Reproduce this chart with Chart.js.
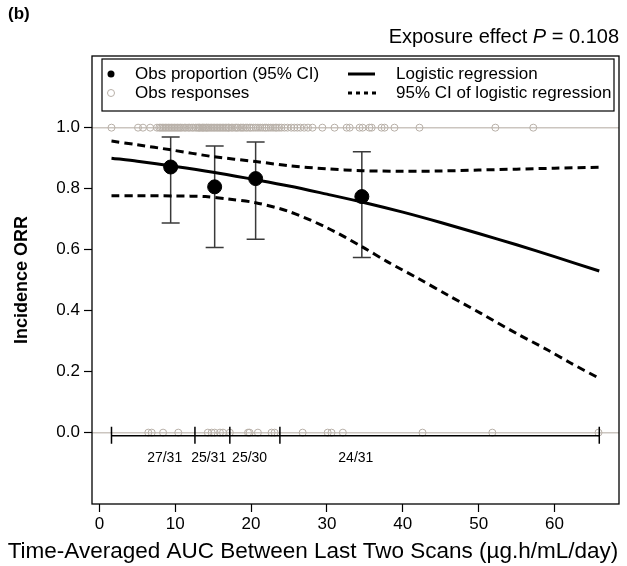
<!DOCTYPE html>
<html><head><meta charset="utf-8">
<script src="https://cdn.jsdelivr.net/npm/chart.js@4.4.0/dist/chart.umd.min.js"></script>
<style>html,body{margin:0;padding:0;background:#fff}</style>
</head><body>
<canvas id="c" width="627" height="566"></canvas>
<script>
// ---------- data ----------
const xTicks = [0, 10, 20, 30, 40, 50, 60];
const yTicks = [0, 0.2, 0.4, 0.6, 0.8, 1.0];
const refLines = [0, 1];

// observed responders (ORR = 1)
const respX = [1.6, 5.1, 5.75, 6.7,
  7.6, 7.9, 8.1, 8.3, 8.5, 8.7, 8.9, 9.1, 9.3, 9.5, 9.7, 9.9, 10.1, 10.3, 10.5, 10.7, 10.9, 11.2, 11.4, 11.7, 11.9, 12.2, 12.4,
  12.7, 12.9, 13.1, 13.2, 13.4, 13.6, 13.7, 13.9, 14.1, 14.2, 14.4, 14.6, 14.8, 15.0, 15.2, 15.4, 15.6, 15.8, 16.0, 16.2, 16.4, 16.6, 16.8, 17.0, 17.1,
  17.4, 17.6, 17.9, 18.1, 18.3, 18.6, 18.8, 19.0, 19.3, 19.5, 19.8, 20.0, 20.3, 20.6, 20.9, 21.2, 21.5, 21.8, 22.0, 22.3, 22.6, 22.9, 23.2, 23.4, 23.7,
  24.0, 24.4, 24.8, 25.3, 25.7, 26.1, 26.5, 27.0, 27.5, 28.1, 29.4, 31.0, 32.6, 33.0, 34.3, 34.7, 35.6, 35.9, 37.2, 37.6, 38.9, 42.2, 52.2, 57.2];
// observed non-responders (ORR = 0)
const nonRespX = [6.45, 6.9, 8.4, 10.4,
  14.3, 14.8, 15.2, 15.9, 16.3, 17.2,
  19.6, 19.8, 20.9, 22.7, 23.1,
  26.8, 30.1, 30.6, 32.1, 42.6, 51.8, 65.8];

const binEdges = [1.6, 12.6, 17.2, 23.8, 65.9];
const binLabels = ['27/31', '25/31', '25/30', '24/31'];
const propX = [9.4, 15.2, 20.6, 34.6];
const propY = [0.871, 0.806, 0.833, 0.774];
const ciLow = [0.687, 0.607, 0.634, 0.574];
const ciHigh = [0.969, 0.940, 0.953, 0.921];

const fitX = [1.6, 5, 10, 15, 20, 25, 30, 35, 40, 45, 50, 55, 60, 65.9];
const fitY = [0.900, 0.890, 0.873, 0.854, 0.832, 0.809, 0.782, 0.754, 0.723, 0.689, 0.653, 0.616, 0.577, 0.530];
const upX = [1.6, 5, 9.5, 15, 20.6, 25, 30, 34.6, 40, 45, 50, 55, 60, 65.9];
const upY = [0.956, 0.944, 0.927, 0.905, 0.889, 0.875, 0.865, 0.859, 0.857, 0.858, 0.861, 0.864, 0.867, 0.870];
const loX = [1.6, 5, 10, 14, 17, 20.6, 25, 30, 34.6, 38, 42, 46, 50.3, 55, 59.1, 62, 65.9];
const loY = [0.777, 0.777, 0.776, 0.774, 0.766, 0.754, 0.725, 0.672, 0.610, 0.560, 0.506, 0.450, 0.391, 0.325, 0.271, 0.230, 0.178];

// ---------- chart ----------
const F = '"Liberation Sans", Arial, sans-serif';
const GRAY = '#b8b0a8';
const pts = (xs, ys) => xs.map((v, i) => ({x: v, y: ys[i]}));
const cst = (xs, c) => xs.map(v => ({x: v, y: c}));

const overlay = {
  id: 'overlay',
  beforeDatasetsDraw(chart) {
    const {ctx, chartArea: a, scales: {x, y}} = chart;
    ctx.save();
    ctx.strokeStyle = '#cbc5bf'; ctx.lineWidth = 1.5;
    refLines.forEach(v => {
      const py = y.getPixelForValue(v);
      ctx.beginPath(); ctx.moveTo(a.left, py); ctx.lineTo(a.right, py); ctx.stroke();
    });
    // error bars
    ctx.strokeStyle = '#3a3a3a'; ctx.lineWidth = 1.5;
    propX.forEach((v, i) => {
      const px = x.getPixelForValue(v);
      const y1 = y.getPixelForValue(ciLow[i]), y2 = y.getPixelForValue(ciHigh[i]);
      ctx.beginPath();
      ctx.moveTo(px, y1); ctx.lineTo(px, y2);
      ctx.moveTo(px - 9, y1); ctx.lineTo(px + 9, y1);
      ctx.moveTo(px - 9, y2); ctx.lineTo(px + 9, y2);
      ctx.stroke();
    });
    ctx.restore();
  },
  afterDraw(chart) {
    const {ctx, chartArea: a, scales: {x, y}} = chart;
    ctx.save();
    // frame
    ctx.strokeStyle = '#000'; ctx.lineWidth = 1.3;
    ctx.strokeRect(a.left, a.top, a.right - a.left, a.bottom - a.top);
    // bin brackets
    const by = y.getPixelForValue(0) + 3;
    ctx.lineWidth = 1.5;
    ctx.beginPath();
    ctx.moveTo(x.getPixelForValue(binEdges[0]), by);
    ctx.lineTo(x.getPixelForValue(binEdges[binEdges.length - 1]), by);
    binEdges.forEach(v => {
      const px = x.getPixelForValue(v);
      ctx.moveTo(px, by - 9); ctx.lineTo(px, by + 8);
    });
    ctx.stroke();
    ctx.fillStyle = '#000';
    ctx.font = '14px ' + F;
    ctx.textAlign = 'center'; ctx.textBaseline = 'middle';
    binLabels.forEach((t, i) => {
      ctx.fillText(t, x.getPixelForValue(propX[i]) - 6, by + 23);
    });
    // legend
    const lx = a.left + 10, ly = a.top + 3;
    ctx.lineWidth = 1.2;
    ctx.strokeRect(lx, ly, a.right - 5 - lx, 52);
    const r1 = ly + 15, r2 = ly + 34;
    ctx.beginPath(); ctx.arc(lx + 9, r1, 3.5, 0, Math.PI * 2); ctx.fill();
    ctx.strokeStyle = GRAY; ctx.lineWidth = 1;
    ctx.beginPath(); ctx.arc(lx + 9, r2, 3.5, 0, Math.PI * 2); ctx.stroke();
    ctx.font = '17px ' + F; ctx.textAlign = 'left';
    ctx.fillText('Obs proportion (95% CI)', lx + 33, r1);
    ctx.fillText('Obs responses', lx + 33, r2);
    ctx.strokeStyle = '#000'; ctx.lineWidth = 3;
    ctx.beginPath(); ctx.moveTo(lx + 246, r1); ctx.lineTo(lx + 273, r1); ctx.stroke();
    ctx.setLineDash([4, 4]);
    ctx.beginPath(); ctx.moveTo(lx + 246, r2); ctx.lineTo(lx + 275, r2); ctx.stroke();
    ctx.setLineDash([]);
    ctx.fillText('Logistic regression', lx + 294, r1);
    ctx.fillText('95% CI of logistic regression', lx + 294, r2);
    // panel tag & p-value
    ctx.font = 'bold 17px ' + F; ctx.textAlign = 'left';
    ctx.fillText('(b)', 8, 14);
    const fs = '20px ';
    const t1 = 'Exposure effect ', t3 = ' = 0.108';
    ctx.font = fs + F; const w1 = ctx.measureText(t1).width, w3 = ctx.measureText(t3).width;
    ctx.font = 'italic ' + fs + F; const w2 = ctx.measureText('P').width;
    const sx = a.right - (w1 + w2 + w3);
    const ty = 37;
    ctx.font = fs + F; ctx.fillText(t1, sx, ty);
    ctx.font = 'italic ' + fs + F; ctx.fillText('P', sx + w1, ty);
    ctx.font = fs + F; ctx.fillText(t3, sx + w1 + w2, ty);
    // axis titles
    ctx.font = '22.5px ' + F; ctx.textAlign = 'center';
    ctx.fillText('Time-Averaged AUC Between Last Two Scans (\u00b5g.h/mL/day)', 313, 552);
    ctx.save();
    ctx.translate(22, (a.top + a.bottom) / 2);
    ctx.rotate(-Math.PI / 2);
    ctx.font = 'bold 18px ' + F;
    ctx.fillText('Incidence ORR', 0, 0);
    ctx.restore();
    ctx.restore();
  }
};

new Chart(document.getElementById('c'), {
  type: 'scatter',
  data: {
    datasets: [
      {label: 'Obs proportion (95% CI)', data: pts(propX, propY), pointRadius: 7, pointBackgroundColor: '#000', pointBorderColor: '#000', order: 0},
      {label: 'Logistic regression', data: pts(fitX, fitY), showLine: true, borderColor: '#000', borderWidth: 3, pointRadius: 0, tension: 0.3, order: 1},
      {label: '95% CI upper', data: pts(upX, upY), showLine: true, borderColor: '#000', borderWidth: 3, borderDash: [8, 5], pointRadius: 0, tension: 0.3, order: 2},
      {label: '95% CI lower', data: pts(loX, loY), showLine: true, borderColor: '#000', borderWidth: 3, borderDash: [8, 5], pointRadius: 0, tension: 0.3, order: 3},
      {label: 'Obs responses', data: cst(respX, 1), pointRadius: 3.5, pointBorderWidth: 1, pointBorderColor: GRAY, pointBackgroundColor: 'rgba(0,0,0,0)', order: 4},
      {label: 'Obs non-responses', data: cst(nonRespX, 0), pointRadius: 3.5, pointBorderWidth: 1, pointBorderColor: GRAY, pointBackgroundColor: 'rgba(0,0,0,0)', order: 5}
    ]
  },
  options: {
    responsive: false, animation: false, devicePixelRatio: 1,
    layout: {padding: {top: 56, right: 7, left: 0, bottom: 0}},
    plugins: {legend: {display: false}, tooltip: {enabled: false}},
    scales: {
      x: {
        type: 'linear', min: -0.97, max: 68.5,
        afterBuildTicks: s => { s.ticks = xTicks.map(v => ({value: v})); },
        afterFit: s => { s.height = 62; },
        grid: {drawOnChartArea: false, drawTicks: true, tickLength: 8, color: '#000', tickWidth: 1.2},
        border: {display: false},
        ticks: {color: '#000', font: {family: F, size: 17}, padding: 2, maxRotation: 0, callback: v => String(v)}
      },
      y: {
        type: 'linear', min: -0.234, max: 1.235,
        afterBuildTicks: s => { s.ticks = yTicks.map(v => ({value: v})); },
        afterFit: s => { s.width = 92; },
        grid: {drawOnChartArea: false, drawTicks: true, tickLength: 8, color: '#000', tickWidth: 1.2},
        border: {display: false},
        ticks: {color: '#000', font: {family: F, size: 17}, padding: 4, callback: v => Number(v).toFixed(1)}
      }
    }
  },
  plugins: [overlay]
});
</script>
</body></html>
